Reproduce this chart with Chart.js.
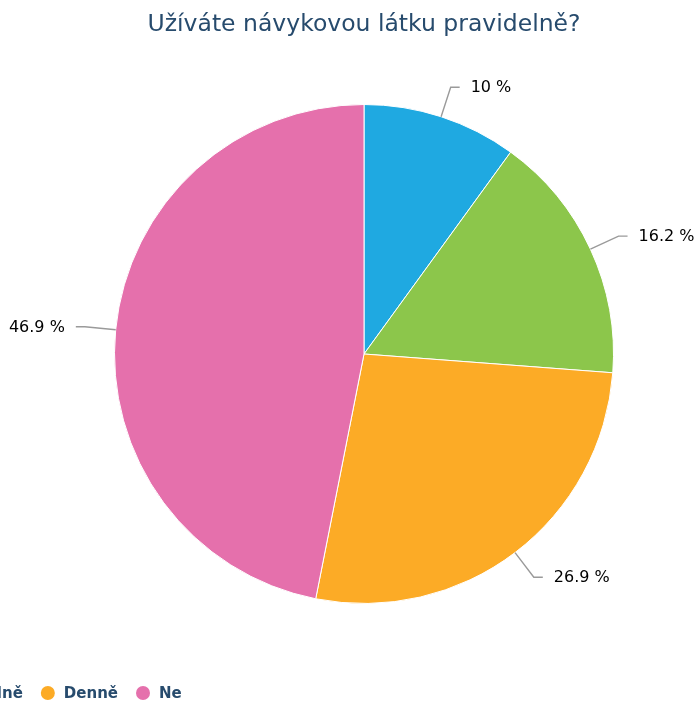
<!DOCTYPE html>
<html>
<head>
<meta charset="utf-8">
<script src="https://cdn.jsdelivr.net/npm/chart.js@4/dist/chart.umd.min.js"></script>
<style>
  html, body { margin: 0; padding: 0; background: #ffffff; overflow: hidden; }
  canvas { display: block; }
</style>
</head>
<body>
<canvas id="pieChart" width="698" height="709"></canvas>
<script>
// DATA
const categories = ["Týdně", "Nepravidelně", "Denně", "Ne"];
const shares = [10, 16.2, 26.9, 46.9];
const sliceColors = ["#1fa9e1", "#8cc64b", "#fcab26", "#e570ac"];
const chartTitle = "Užíváte návykovou látku pravidelně?";

const FONT = "'DejaVu Sans', Verdana, sans-serif";

// DATA LABELS with Highcharts-like connectors
const sliceLabels = {
    id: "sliceLabels",
    afterDatasetsDraw(chart) {
        const ctx = chart.ctx;
        const meta = chart.getDatasetMeta(0);
        ctx.save();
        ctx.font = "16px " + FONT;
        ctx.textBaseline = "middle";
        meta.data.forEach(function (arc, i) {
            const mid = (arc.startAngle + arc.endAngle) / 2;
            const r = arc.outerRadius;
            const cos = Math.cos(mid), sin = Math.sin(mid);
            const side = cos >= 0 ? 1 : -1;
            const x0 = arc.x + cos * r, y0 = arc.y + sin * r;
            const x1 = arc.x + cos * (r + 31), y1 = arc.y + sin * (r + 31);
            const x2 = x1 + side * 9;

            ctx.strokeStyle = "#9a9a9a";
            ctx.lineWidth = 1.4;
            ctx.beginPath();
            ctx.moveTo(x0, y0);
            ctx.lineTo(x1, y1);
            ctx.lineTo(x2, y1);
            ctx.stroke();

            ctx.fillStyle = "#000000";
            ctx.textAlign = side > 0 ? "left" : "right";
            ctx.fillText(shares[i] + " %", x1 + side * 20, y1 + 1);
        });
        ctx.restore();
    }
};

// LEGEND (overflowing on the left, as in the reference)
const bottomLegend = {
    id: "bottomLegend",
    afterDraw(chart) {
        const ctx = chart.ctx;
        const y = 694;
        ctx.save();
        ctx.font = "bold 15px " + FONT;
        ctx.textBaseline = "middle";
        ctx.textAlign = "left";
        let x = 159;
        for (let i = categories.length - 1; i >= 0; i--) {
            ctx.fillStyle = "#274b6d";
            ctx.fillText(categories[i], x, y);
            const dotX = x - 16;
            ctx.fillStyle = sliceColors[i];
            ctx.beginPath();
            ctx.arc(dotX, y - 1, 7, 0, Math.PI * 2);
            ctx.fill();
            if (i > 0) {
                x = dotX - 7 - 18 - ctx.measureText(categories[i - 1]).width;
            }
        }
        ctx.restore();
    }
};

const pieCtx = document.getElementById("pieChart").getContext("2d");
new Chart(pieCtx, {
    type: "pie",
    data: {
        labels: categories,
        datasets: [{
            data: shares,
            backgroundColor: sliceColors,
            borderColor: "#ffffff",
            borderWidth: 1,
            hoverOffset: 0
        }]
    },
    options: {
        responsive: false,
        animation: false,
        layout: {
            padding: { left: 114, right: 84, top: 0, bottom: 105 }
        },
        plugins: {
            legend: { display: false },
            tooltip: { enabled: false },
            title: {
                display: true,
                text: chartTitle,
                color: "#274b6d",
                font: { family: FONT, size: 23.5, weight: "normal", lineHeight: 1.2 },
                padding: { top: 11, bottom: 64.8 }
            }
        }
    },
    plugins: [sliceLabels, bottomLegend]
});
</script>
</body>
</html>
